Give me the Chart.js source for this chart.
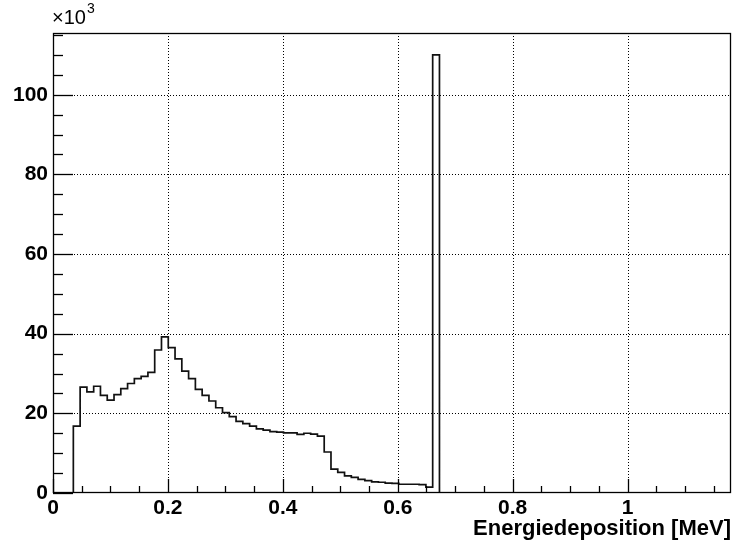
<!DOCTYPE html>
<html>
<head>
<meta charset="utf-8">
<script src="https://cdn.jsdelivr.net/npm/chart.js@4/dist/chart.umd.min.js"></script>
<style>
  html, body { margin: 0; padding: 0; background: #fff; }
  #wrap { width: 734px; height: 545px; position: relative; }
</style>
</head>
<body>
<div id="wrap"><canvas id="c" width="734" height="545"></canvas></div>
<script>
// ---- Data (counts in units of 10^3 per bin) ----
const xMin = 0;
const xMax = 1.18;
const nBins = 100;
const counts = [
  0, 0, 0, 16.8, 26.6, 25.4, 26.8, 24.5, 23.3, 24.7,
  26.2, 27.5, 28.7, 29.3, 30.3, 35.9, 39.2, 36.5, 33.7, 30.6,
  28.7, 26.0, 24.5, 23.1, 21.4, 20.2, 19.2, 18.0, 17.4, 16.8,
  16.1, 15.8, 15.4, 15.3, 15.1, 15.1, 14.7, 15.0, 14.8, 14.3,
  10.3, 6.0, 5.2, 4.3, 3.9, 3.4, 3.1, 2.8, 2.7, 2.5,
  2.4, 2.2, 2.2, 2.2, 2.1, 1.5, 110.0, 0, 0, 0,
  0, 0, 0, 0, 0, 0, 0, 0, 0, 0,
  0, 0, 0, 0, 0, 0, 0, 0, 0, 0,
  0, 0, 0, 0, 0, 0, 0, 0, 0, 0,
  0, 0, 0, 0, 0, 0, 0, 0, 0, 0
];
const xTickValues = [0, 0.2, 0.4, 0.6, 0.8, 1];
const xTickLabels = ['0', '0.2', '0.4', '0.6', '0.8', '1'];
const yTickValues = [0, 20, 40, 60, 80, 100];
const yTickLabels = ['0', '20', '40', '60', '80', '100'];
const yMax = 115.5;
const xMinorStep = 0.05;
const yMinorStep = 5;
const xTitle = 'Energiedeposition [MeV]';
const yExponent = '3';

// histogram outline points: each bin's left edge holds that bin's content
const binWidth = (xMax - xMin) / nBins;
const points = counts.map((c, i) => ({ x: xMin + i * binWidth, y: c }));
points.push({ x: xMax, y: 0 });

const FONT = '"Liberation Sans", Arial, Helvetica, sans-serif';
Chart.defaults.font.family = FONT;
Chart.defaults.color = '#000';

const rootStyle = {
  id: 'rootStyle',
  beforeDatasetsDraw(chart) {
    const { ctx, chartArea: a, scales: { x, y } } = chart;
    ctx.save();
    ctx.strokeStyle = '#000';
    ctx.lineWidth = 1;
    ctx.setLineDash([1, 2]);
    xTickValues.forEach(v => {
      if (v === xMin) return;
      const px = Math.round(x.getPixelForValue(v)) + 0.5;
      ctx.beginPath(); ctx.moveTo(px, a.top); ctx.lineTo(px, a.bottom); ctx.stroke();
    });
    yTickValues.forEach(v => {
      if (v === 0) return;
      const py = Math.round(y.getPixelForValue(v)) + 0.5;
      ctx.beginPath(); ctx.moveTo(a.left, py); ctx.lineTo(a.right, py); ctx.stroke();
    });
    ctx.restore();
  },
  afterDatasetsDraw(chart) {
    const { ctx, chartArea: a, scales: { x, y } } = chart;
    ctx.save();
    ctx.strokeStyle = '#000';
    ctx.lineWidth = 1.3;
    ctx.setLineDash([]);
    // frame
    ctx.strokeRect(a.left + 0.5, a.top + 0.5, a.right - a.left - 1, a.bottom - a.top - 1);
    // ticks (inward, ROOT style)
    const yMajLen = 20, yMinLen = 10, xMajLen = 14, xMinLen = 7;
    for (let k = 0; k * yMinorStep <= yMax + 1e-9; k++) {
      const v = k * yMinorStep;
      const major = yTickValues.some(t => Math.abs(t - v) < 1e-9);
      const py = Math.round(y.getPixelForValue(v)) + 0.5;
      ctx.beginPath(); ctx.moveTo(a.left, py); ctx.lineTo(a.left + (major ? yMajLen : yMinLen), py); ctx.stroke();
    }
    for (let k = 0; xMin + k * xMinorStep <= xMax + 1e-9; k++) {
      const v = xMin + k * xMinorStep;
      const major = xTickValues.some(t => Math.abs(t - v) < 1e-9);
      const px = Math.round(x.getPixelForValue(v)) + 0.5;
      ctx.beginPath(); ctx.moveTo(px, a.bottom); ctx.lineTo(px, a.bottom - (major ? xMajLen : xMinLen)); ctx.stroke();
    }
    // exponent label
    ctx.fillStyle = '#000';
    ctx.textBaseline = 'alphabetic';
    ctx.textAlign = 'left';
    ctx.font = '20px ' + FONT;
    const base = '\u00d710';
    ctx.fillText(base, a.left - 1, a.top - 9);
    const w = ctx.measureText(base).width;
    ctx.font = '14px ' + FONT;
    ctx.fillText(yExponent, a.left - 1 + w + 1, a.top - 20);
    ctx.restore();
  }
};

new Chart(document.getElementById('c'), {
  type: 'line',
  data: {
    datasets: [{
      data: points,
      stepped: 'before',
      borderColor: '#111',
      borderWidth: 1.7,
      pointRadius: 0,
      fill: false,
      tension: 0
    }]
  },
  options: {
    responsive: false,
    animation: false,
    events: [],
    layout: { padding: { top: 33, right: 3, left: 0, bottom: 0 } },
    plugins: { legend: { display: false }, tooltip: { enabled: false } },
    scales: {
      x: {
        type: 'linear',
        min: xMin,
        max: xMax,
        grid: { display: false, drawTicks: false },
        border: { display: false },
        afterBuildTicks: s => { s.ticks = xTickValues.map(v => ({ value: v })); },
        afterFit: s => { s.height = 52; },
        ticks: {
          autoSkip: false,
          maxRotation: 0,
          padding: 3,
          font: { size: 21, weight: 'bold' },
          callback: (v) => { const i = xTickValues.findIndex(t => Math.abs(t - v) < 1e-9); return i >= 0 ? xTickLabels[i] : ''; }
        },
        title: {
          display: true,
          text: xTitle,
          align: 'end',
          font: { size: 22, weight: 'bold' },
          padding: { top: 0, bottom: 3 }
        }
      },
      y: {
        type: 'linear',
        min: 0,
        max: yMax,
        grid: { display: false, drawTicks: false },
        border: { display: false },
        afterBuildTicks: s => { s.ticks = yTickValues.map(v => ({ value: v })); },
        afterFit: s => { s.width = 53; },
        ticks: {
          autoSkip: false,
          padding: 5,
          font: { size: 21, weight: 'bold' },
          callback: (v) => { const i = yTickValues.findIndex(t => Math.abs(t - v) < 1e-9); return i >= 0 ? yTickLabels[i] : ''; }
        }
      }
    }
  },
  plugins: [rootStyle]
});
</script>
</body>
</html>
